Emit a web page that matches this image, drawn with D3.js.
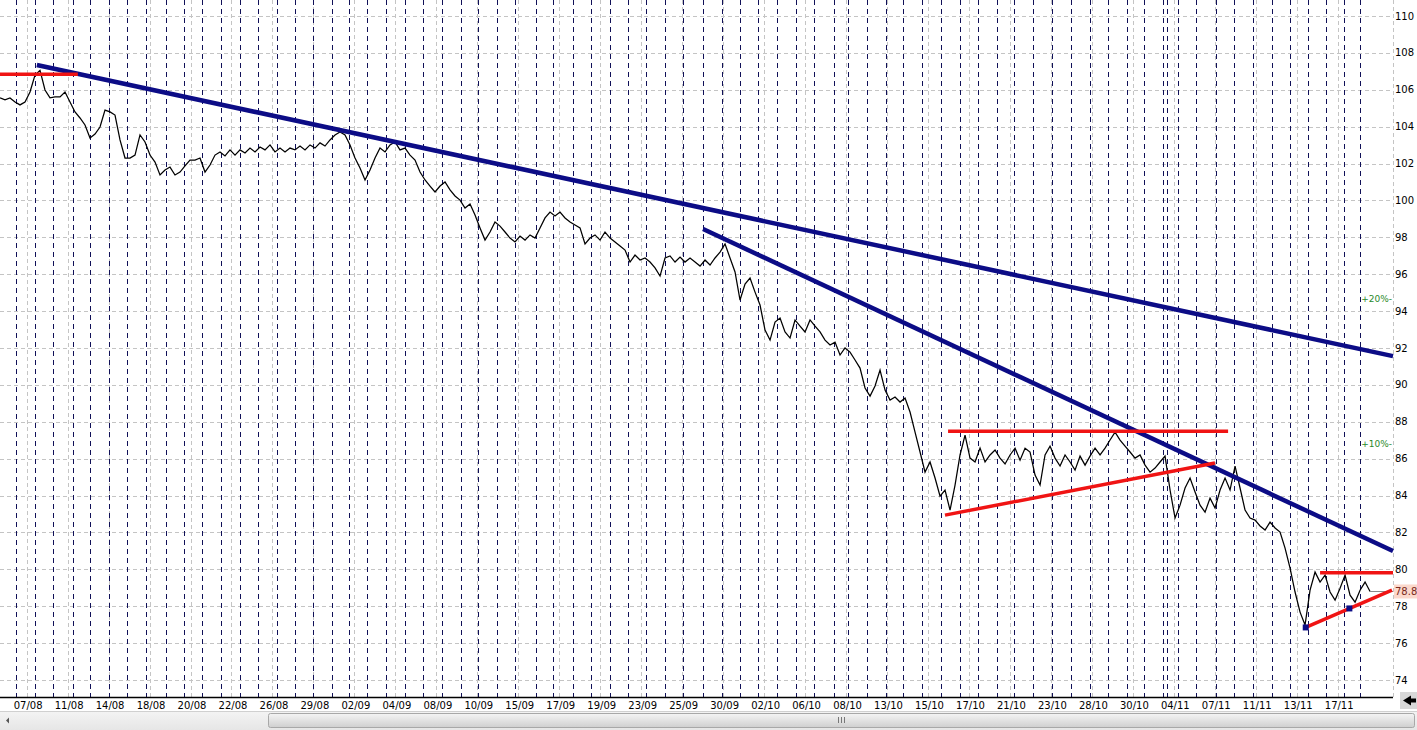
<!DOCTYPE html>
<html><head><meta charset="utf-8">
<script src="https://cdn.jsdelivr.net/npm/d3@7"></script>
<style>html,body{margin:0;padding:0;background:#fff;overflow:hidden}svg{display:block}</style>
</head><body><svg id="c" width="1417" height="730"></svg>
<script>
// ---------------- data ----------------
const priceValues = [
105.56,105.45,105.56,105.34,105.18,105.34,105.88,106.80,107.05,105.99,
105.56,105.61,105.61,105.88,105.34,104.80,104.47,104.09,103.39,103.60,
103.98,104.90,104.80,104.63,103.28,102.30,102.30,102.46,103.55,103.17,
102.46,102.08,101.38,101.65,101.81,101.38,101.54,101.87,102.19,102.19,
102.30,101.54,101.92,102.46,102.63,102.41,102.74,102.46,102.74,102.57,
102.84,102.63,102.90,102.74,103.01,102.63,102.84,102.63,102.84,102.74,
102.95,102.74,103.01,102.84,103.12,102.95,103.28,103.55,103.71,103.55,
103.01,102.30,101.76,101.11,101.65,102.30,102.84,102.63,103.01,103.17,
102.74,102.84,102.46,102.19,101.54,101.11,100.78,100.46,100.78,101.00,
100.57,100.24,100.02,99.59,99.81,99.21,98.51,97.85,98.29,98.83,
98.61,98.29,97.96,97.75,98.07,97.85,98.13,97.96,98.51,99.05,
99.37,99.16,99.37,99.05,98.83,98.67,98.51,97.64,97.96,98.13,
97.85,98.29,97.96,97.75,97.53,97.31,96.66,97.04,96.77,96.88,
96.66,96.34,95.90,96.88,96.99,96.66,96.93,96.66,96.88,96.66,
96.44,96.77,96.50,96.88,97.20,97.64,96.88,96.12,94.60,95.47,
95.79,95.03,94.33,92.97,92.43,93.41,93.62,92.87,92.54,93.52,
93.19,92.87,93.52,93.19,92.87,92.43,92.16,92.32,91.62,92.00,
91.78,91.35,90.91,89.83,89.39,89.94,90.80,89.72,89.18,89.34,
89.07,89.29,88.53,87.44,86.36,85.27,85.82,84.95,83.97,84.30,
83.21,84.57,86.20,87.28,86.03,85.82,86.57,85.82,86.20,86.47,
86.03,85.71,86.20,86.57,85.92,86.57,86.36,85.11,84.57,86.20,
86.68,86.03,85.60,86.20,85.82,85.38,86.14,85.65,86.14,86.57,
86.20,86.57,87.01,87.44,87.01,86.68,86.36,86.03,86.20,85.65,
85.27,85.49,85.82,86.14,84.30,82.78,83.48,84.41,84.95,84.19,
83.48,83.10,83.86,83.32,84.30,84.95,84.30,85.60,84.41,83.21,
82.78,82.67,82.35,82.13,82.56,82.24,82.02,81.15,80.07,78.77,
77.68,76.98,78.87,79.85,79.31,79.69,78.77,78.33,78.98,79.69,
78.60,78.22,78.87,79.31,78.80
];
const priceFirstBar = 0;
const priceLastBar = 668.8;

const dayStartBars = [8,17,26,35.5,44,53,62,71.5,81,90,98.5,108,117,126,135,144,153,162,170.5,179,
188.5,197.5,206.5,216,225,233.5,242.5,251.5,261.5,270,279.5,288.5,298,306.5,315.5,324.5,333.5,343,
352.5,361,370,379.5,388.5,397.5,407,414,423,432.5,441,450,459.5,468.5,477.5,486.5,495,504.5,513.5,
523,532,541,550,558.5,567.5,569.5,575,584,593.5,602.5,611.5,621,629.5,638.5,647.5,656,664];

const dateLabels = ["07/08","11/08","14/08","18/08","20/08","22/08","26/08","29/08","02/09","04/09",
"08/09","10/09","15/09","17/09","19/09","23/09","25/09","30/09","02/10","06/10","08/10","13/10",
"15/10","17/10","21/10","23/10","28/10","30/10","04/11","07/11","11/11","13/11","17/11"];
const dateLabelBars = [13,33,53,73,93,113,133,153,173,193,213,233,253,273,293,313,333,353,373,393,
413,433,453,473,493,513,533,553,573,593,613,633,653];

const yTicks = [74,76,78,80,82,84,86,88,90,92,94,96,98,100,102,104,106,108,110];

// trend lines: [bar, value] pairs
const blueLines = [
  [[18, 107.34], [680, 91.56]],
  [[343.2, 98.45], [680, 80.99]]
];
const redLines = [
  [[0, 106.84], [38, 106.84]],
  [[462.8, 87.49], [599.5, 87.49]],
  [[461.3, 82.94], [593.1, 85.76]],
  [[644.4, 79.81], [680, 79.81]],
  [[637.4, 76.85], [679.5, 78.87]]
];
const pivotDots = [[637.4, 76.85], [658.7, 77.88]];
const pctMarkers = [{label: "+20%-", value: 94.66}, {label: "+10%-", value: 86.83}];
const lastPrice = 78.8;

// ---------------- drawing ----------------
const W = 1417, H = 730, plotR = 1393, axisY = 697;
const svg = d3.select("#c");
const x = d3.scaleLinear().domain([0, 680]).range([0, plotR]);
const y = d3.scaleLinear().domain([110, 74]).range([16, 680]);
const crisp = v => Math.round(v) + 0.5;
const FONT = "'DejaVu Sans', Verdana, sans-serif";

svg.append("rect").attr("width", W).attr("height", H).attr("fill", "#fff");

const grid = svg.append("g");
grid.selectAll("line.h").data(yTicks).join("line")
  .attr("x1", 0).attr("x2", plotR)
  .attr("y1", d => crisp(y(d))).attr("y2", d => crisp(y(d)))
  .attr("stroke", "#c4c4c4").attr("stroke-dasharray", "4,3");
grid.selectAll("line.v").data(dateLabelBars).join("line")
  .attr("x1", d => crisp(x(d))).attr("x2", d => crisp(x(d)))
  .attr("y1", 0).attr("y2", axisY)
  .attr("stroke", "#c4c4c4").attr("stroke-dasharray", "4,3");
grid.append("line").attr("x1", plotR + 0.5).attr("x2", plotR + 0.5).attr("y1", 0).attr("y2", axisY)
  .attr("stroke", "#c4c4c4").attr("stroke-dasharray", "4,3");
grid.selectAll("line.d").data(dayStartBars).join("line")
  .attr("x1", d => crisp(x(d))).attr("x2", d => crisp(x(d)))
  .attr("y1", 0).attr("y2", axisY)
  .attr("stroke", "#101058").attr("stroke-dasharray", "5,4");

// price line
const step = (priceLastBar - priceFirstBar) / (priceValues.length - 1);
const line = d3.line().x((d, i) => x(priceFirstBar + i * step)).y(d => y(d));
svg.append("path").datum(priceValues).attr("d", line)
  .attr("fill", "none").attr("stroke", "#000").attr("stroke-width", 1.25)
  .attr("stroke-linejoin", "miter");

// last price connector
const lastX = x(priceLastBar);
svg.append("line").attr("x1", lastX).attr("x2", plotR).attr("y1", crisp(y(lastPrice))).attr("y2", crisp(y(lastPrice)))
  .attr("stroke", "#8a8a8a");

// trend lines
const seg = d3.line().x(d => x(d[0])).y(d => y(d[1]));
svg.selectAll("path.blue").data(blueLines).join("path")
  .attr("d", seg).attr("stroke", "#0c0c86").attr("stroke-width", 4.5).attr("fill", "none");
svg.selectAll("path.red").data(redLines).join("path")
  .attr("d", seg).attr("stroke", "#f01414").attr("stroke-width", 3.5).attr("fill", "none");
svg.selectAll("rect.dot").data(pivotDots).join("rect")
  .attr("x", d => x(d[0]) - 3).attr("y", d => y(d[1]) - 3).attr("width", 6).attr("height", 6)
  .attr("fill", "#0c0c86");

// percent markers
svg.selectAll("text.pct").data(pctMarkers).join("text")
  .attr("x", plotR - 1).attr("y", d => y(d.value)).attr("dy", "0.35em")
  .attr("text-anchor", "end").attr("font-family", FONT).attr("font-size", 9)
  .attr("fill", "#2a8a2a").text(d => d.label);

// right axis labels
svg.selectAll("text.yl").data(yTicks).join("text")
  .attr("x", plotR + 2).attr("y", d => y(d)).attr("dy", "0.36em")
  .attr("font-family", FONT).attr("font-size", 10).attr("fill", "#000").text(d => d);

// last price tag
svg.append("rect").attr("x", plotR + 1).attr("y", y(lastPrice) - 7).attr("width", W - plotR - 1).attr("height", 14)
  .attr("fill", "#fbd8cc");
svg.append("text").attr("x", plotR + 2).attr("y", y(lastPrice)).attr("dy", "0.36em")
  .attr("font-family", FONT).attr("font-size", 10).attr("fill", "#7a2a20").text(lastPrice.toFixed(1));

// bottom axis
svg.append("rect").attr("x", 0).attr("y", axisY).attr("width", W).attr("height", H - axisY).attr("fill", "#fff");
svg.append("line").attr("x1", 0).attr("x2", plotR).attr("y1", axisY + 0.5).attr("y2", axisY + 0.5)
  .attr("stroke", "#000").attr("stroke-width", 1.4);
svg.selectAll("text.xl").data(dateLabels).join("text")
  .attr("x", (d, i) => x(dateLabelBars[i]) + 1.5).attr("y", 708.5)
  .attr("text-anchor", "middle").attr("font-family", FONT).attr("font-size", 10)
  .attr("fill", "#000").text(d => d);

// scrollbar (window chrome)
const defs = svg.append("defs");
const g1 = defs.append("linearGradient").attr("id", "trk").attr("x1", 0).attr("x2", 0).attr("y1", 0).attr("y2", 1);
g1.append("stop").attr("offset", 0).attr("stop-color", "#f3f3f3");
g1.append("stop").attr("offset", 1).attr("stop-color", "#e6e6e6");
const g2 = defs.append("linearGradient").attr("id", "thm").attr("x1", 0).attr("x2", 0).attr("y1", 0).attr("y2", 1);
g2.append("stop").attr("offset", 0).attr("stop-color", "#f4f4f4");
g2.append("stop").attr("offset", 0.5).attr("stop-color", "#e2e2e2");
g2.append("stop").attr("offset", 1).attr("stop-color", "#cfcfcf");
svg.append("line").attr("x1", 0).attr("x2", W).attr("y1", 711.5).attr("y2", 711.5).attr("stroke", "#d0d0d0");
svg.append("rect").attr("x", 0).attr("y", 712).attr("width", W).attr("height", 18).attr("fill", "url(#trk)");
svg.append("rect").attr("x", 268.5).attr("y", 713.5).attr("width", 1146).attr("height", 14).attr("rx", 2)
  .attr("fill", "url(#thm)").attr("stroke", "#a8a8a8");
[0, 3, 6].forEach(o => svg.append("line").attr("x1", 838.5 + o).attr("x2", 838.5 + o)
  .attr("y1", 717).attr("y2", 723).attr("stroke", "#777"));
svg.append("path").attr("d", "M6,720.5 L9,717.5 L9,723.5 Z").attr("fill", "#555");
svg.append("rect").attr("x", 1400).attr("y", 692).attr("width", 17).attr("height", 17).attr("fill", "#d8d8d8");
svg.append("path").attr("d", "M1403,700.5 L1411,695.5 L1411,705.5 Z M1410,698.5 h6 v4 h-6 Z").attr("fill", "#000");
</script></body></html>
